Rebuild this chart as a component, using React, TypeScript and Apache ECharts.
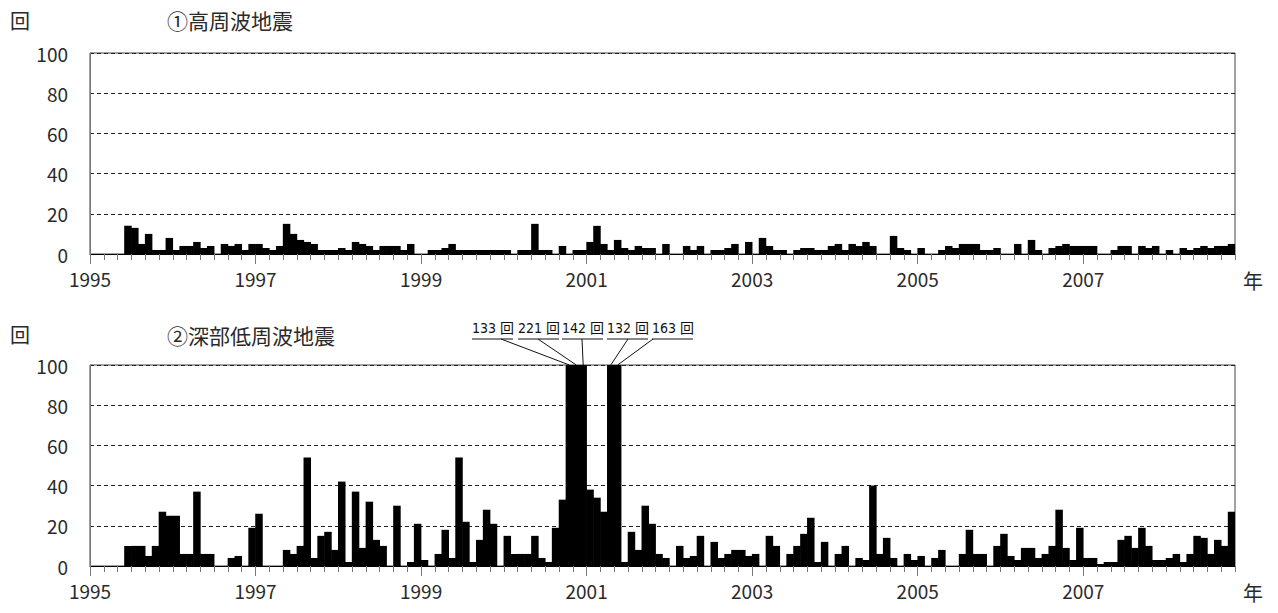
import React, { useEffect, useRef } from "react";
import * as echarts from "echarts";

// Monthly counts, Jan 1995 .. Oct 2008 (166 months)
const START_YEAR = 1995;
const MONTH_COUNT = 166;
const months: string[] = [];
for (let i = 0; i < MONTH_COUNT; i++) {
  months.push(`${START_YEAR + Math.floor(i / 12)}-${String((i % 12) + 1).padStart(2, "0")}`);
}

const yearTickIdx = [0, 24, 48, 72, 96, 120, 144];

// ① high-frequency earthquakes
const highFreq = [
  0, 0, 0, 0, 0, 14, 13, 5, 10, 2, 2, 8,
  2, 4, 4, 6, 3, 4, 0, 5, 4, 5, 2, 5,
  5, 3, 2, 4, 15, 10, 7, 6, 5, 2, 2, 2,
  3, 2, 6, 5, 4, 2, 4, 4, 4, 2, 5, 0,
  0, 2, 2, 3, 5, 2, 2, 2, 2, 2, 2, 2,
  2, 0, 2, 2, 15, 2, 2, 0, 4, 0, 2, 2,
  6, 14, 5, 2, 7, 3, 2, 4, 3, 3, 0, 5,
  0, 0, 4, 2, 4, 0, 2, 2, 3, 5, 0, 6,
  0, 8, 4, 2, 2, 0, 2, 3, 3, 2, 2, 4,
  5, 2, 5, 4, 6, 4, 0, 0, 9, 3, 2, 0,
  3, 0, 0, 2, 4, 3, 5, 5, 5, 2, 2, 3,
  0, 0, 5, 0, 7, 2, 0, 3, 4, 5, 4, 4,
  4, 4, 0, 0, 2, 4, 4, 0, 4, 3, 4, 0,
  2, 0, 3, 2, 3, 4, 3, 4, 4, 5,
];

// ② deep low-frequency earthquakes
const lowFreq = [
  0, 0, 0, 0, 0, 10, 10, 10, 5, 10, 27, 25,
  25, 6, 6, 37, 6, 6, 0, 0, 4, 5, 0, 19,
  26, 0, 0, 0, 8, 6, 10, 54, 4, 15, 17, 8,
  42, 2, 37, 9, 32, 13, 10, 0, 30, 0, 2, 21,
  3, 0, 6, 18, 4, 54, 22, 2, 13, 28, 21, 0,
  15, 6, 6, 6, 15, 4, 2, 19, 33, 133, 221, 142,
  38, 34, 27, 132, 163, 2, 17, 8, 30, 21, 6, 4,
  0, 10, 4, 5, 15, 0, 12, 4, 6, 8, 8, 5,
  6, 0, 15, 10, 0, 6, 10, 16, 24, 2, 12, 0,
  6, 10, 0, 4, 3, 40, 6, 14, 4, 0, 6, 3,
  5, 0, 4, 8, 0, 0, 6, 18, 6, 6, 0, 10,
  16, 5, 3, 9, 9, 4, 6, 10, 28, 9, 3, 19,
  4, 4, 1, 2, 2, 13, 15, 9, 19, 10, 3, 3,
  4, 6, 2, 6, 15, 14, 6, 13, 10, 27,
];

const FONT = "'Noto Sans CJK JP', sans-serif";
const NARROW = "'DejaVu Sans Condensed', 'Noto Sans CJK JP', sans-serif";
const TEXT_COLOR = "#2a2a2a";

const GRID_LEFT = 90;
const GRID_W = 1145;
const GRID_H = 201;
const TOPS = [53, 365];

function buildAxes(g: number) {
  const minorVals: number[] = [];
  for (let v = 0; v <= MONTH_COUNT; v += 2) minorVals.push(v);
  return [
    {
      type: "category",
      gridIndex: g,
      data: months,
      position: "bottom",
      boundaryGap: true,
      axisLine: { show: true, onZero: false, lineStyle: { color: "#000", width: 1 } },
      axisTick: { show: false },
      axisLabel: { show: false },
      splitLine: { show: false },
    },
    {
      type: "value",
      gridIndex: g,
      min: 0,
      max: MONTH_COUNT,
      position: "bottom",
      axisLine: { show: false, onZero: false },
      axisTick: { show: true, length: 6, customValues: minorVals, lineStyle: { color: "#777" } },
      axisLabel: { show: false },
      splitLine: { show: false },
    },
    {
      type: "value",
      gridIndex: g,
      min: 0,
      max: MONTH_COUNT,
      position: "bottom",
      axisLine: { show: false, onZero: false },
      axisTick: { show: true, length: 10, customValues: yearTickIdx, lineStyle: { color: "#777" } },
      axisLabel: {
        show: true,
        customValues: yearTickIdx,
        formatter: (v: number) => String(START_YEAR + Math.round(v / 12)),
        fontFamily: FONT,
        fontSize: 19,
        color: TEXT_COLOR,
        margin: 15,
      },
      splitLine: { show: false },
    },
  ];
}

function buildY(g: number) {
  return {
    type: "value",
    gridIndex: g,
    min: 0,
    max: 100,
    interval: 20,
    axisLine: { show: true, lineStyle: { color: "#777" } },
    axisTick: { show: false },
    axisLabel: { fontFamily: FONT, fontSize: 19, color: TEXT_COLOR, margin: 22 },
    splitLine: { show: true, lineStyle: { color: "#222", type: [4, 3], width: 1 } },
  };
}

// bars drawn through the axes' own scales (api.coord / api.size)
function renderBar(params: any, api: any) {
  const idx = api.value(0);
  const v = api.value(1);
  if (!v) return null;
  const top = api.coord([idx, Math.min(v, 100)]);
  const base = api.coord([idx, 0]);
  const w = api.size([1, 0])[0];
  const cs = params.coordSys;
  const rect = echarts.graphic.clipRectByRect(
    { x: top[0] - w / 2 - 0.3, y: top[1], width: w + 0.6, height: base[1] - top[1] },
    { x: cs.x, y: cs.y, width: cs.width, height: cs.height }
  );
  if (!rect) return null;
  return { type: "rect", shape: rect, style: { fill: "#000" } };
}

export default function App() {
  const ref = useRef<HTMLDivElement>(null);
  useEffect(() => {
    if (!ref.current) return;
    const chart = echarts.init(ref.current, null, { renderer: "svg" });
    const option: any = {
      animation: false,
      backgroundColor: "#fff",
      grid: TOPS.map((t) => ({
        left: GRID_LEFT,
        top: t,
        width: GRID_W,
        height: GRID_H,
        show: true,
        borderColor: "#444",
        borderWidth: 1,
        containLabel: false,
      })),
      xAxis: [...buildAxes(0), ...buildAxes(1)],
      yAxis: [buildY(0), buildY(1)],
      series: [
        {
          type: "custom",
          xAxisIndex: 0,
          yAxisIndex: 0,
          data: highFreq.map((v, i) => [i, v]),
          encode: { x: 0, y: 1 },
          renderItem: renderBar,
          clip: true,
        },
        {
          type: "custom",
          xAxisIndex: 3,
          yAxisIndex: 1,
          data: lowFreq.map((v, i) => [i, v]),
          encode: { x: 0, y: 1 },
          renderItem: renderBar,
          clip: true,
        },
      ],
    };
    chart.setOption(option);

    // annotations for clipped bars
    const clipped: number[] = [];
    lowFreq.forEach((v, i) => {
      if (v > 100) clipped.push(i);
    });
    const labelLeft = [472, 518, 562, 607, 652];
    const anchorX = [501, 538, 582, 628, 653];
    const labelY = 328;
    const ulY = 339;
    const graphics: any[] = [
      { type: "text", left: 10, top: 10, style: { text: "回", font: `20px ${FONT}`, fill: TEXT_COLOR } },
      { type: "text", left: 167, top: 9, style: { text: "①高周波地震", font: `21px ${FONT}`, fill: TEXT_COLOR } },
      { type: "text", left: 10, top: 324, style: { text: "回", font: `20px ${FONT}`, fill: TEXT_COLOR } },
      { type: "text", left: 167, top: 324, style: { text: "②深部低周波地震", font: `21px ${FONT}`, fill: TEXT_COLOR } },
      { type: "text", left: 1243, top: 270, style: { text: "年", font: `20px ${FONT}`, fill: TEXT_COLOR } },
      { type: "text", left: 1243, top: 582, style: { text: "年", font: `20px ${FONT}`, fill: TEXT_COLOR } },
    ];
    clipped.forEach((idx, k) => {
      const p = chart.convertToPixel({ xAxisIndex: 3, yAxisIndex: 1 }, [idx, 100]) as number[];
      const lx = labelLeft[k] ?? labelLeft[labelLeft.length - 1] + 45 * (k - labelLeft.length + 1);
      const ax = anchorX[k] ?? lx;
      graphics.push({
        type: "text",
        x: lx,
        y: labelY,
        style: {
          text: `${lowFreq[idx]} 回`,
          font: `14px ${NARROW}`,
          fill: "#111",
          verticalAlign: "middle",
          align: "left",
        },
      });
      graphics.push({
        type: "line",
        shape: { x1: lx, y1: ulY, x2: lx + 41, y2: ulY },
        style: { stroke: "#111", lineWidth: 1 },
      });
      graphics.push({
        type: "line",
        shape: { x1: ax, y1: ulY, x2: p[0], y2: p[1] },
        style: { stroke: "#111", lineWidth: 1 },
      });
    });
    chart.setOption({ graphic: graphics });
    return () => chart.dispose();
  }, []);
  return (
    <div
      ref={ref}
      style={{ position: "fixed", left: 0, top: 0, width: 1278, height: 613, background: "#fff" }}
    />
  );
}
